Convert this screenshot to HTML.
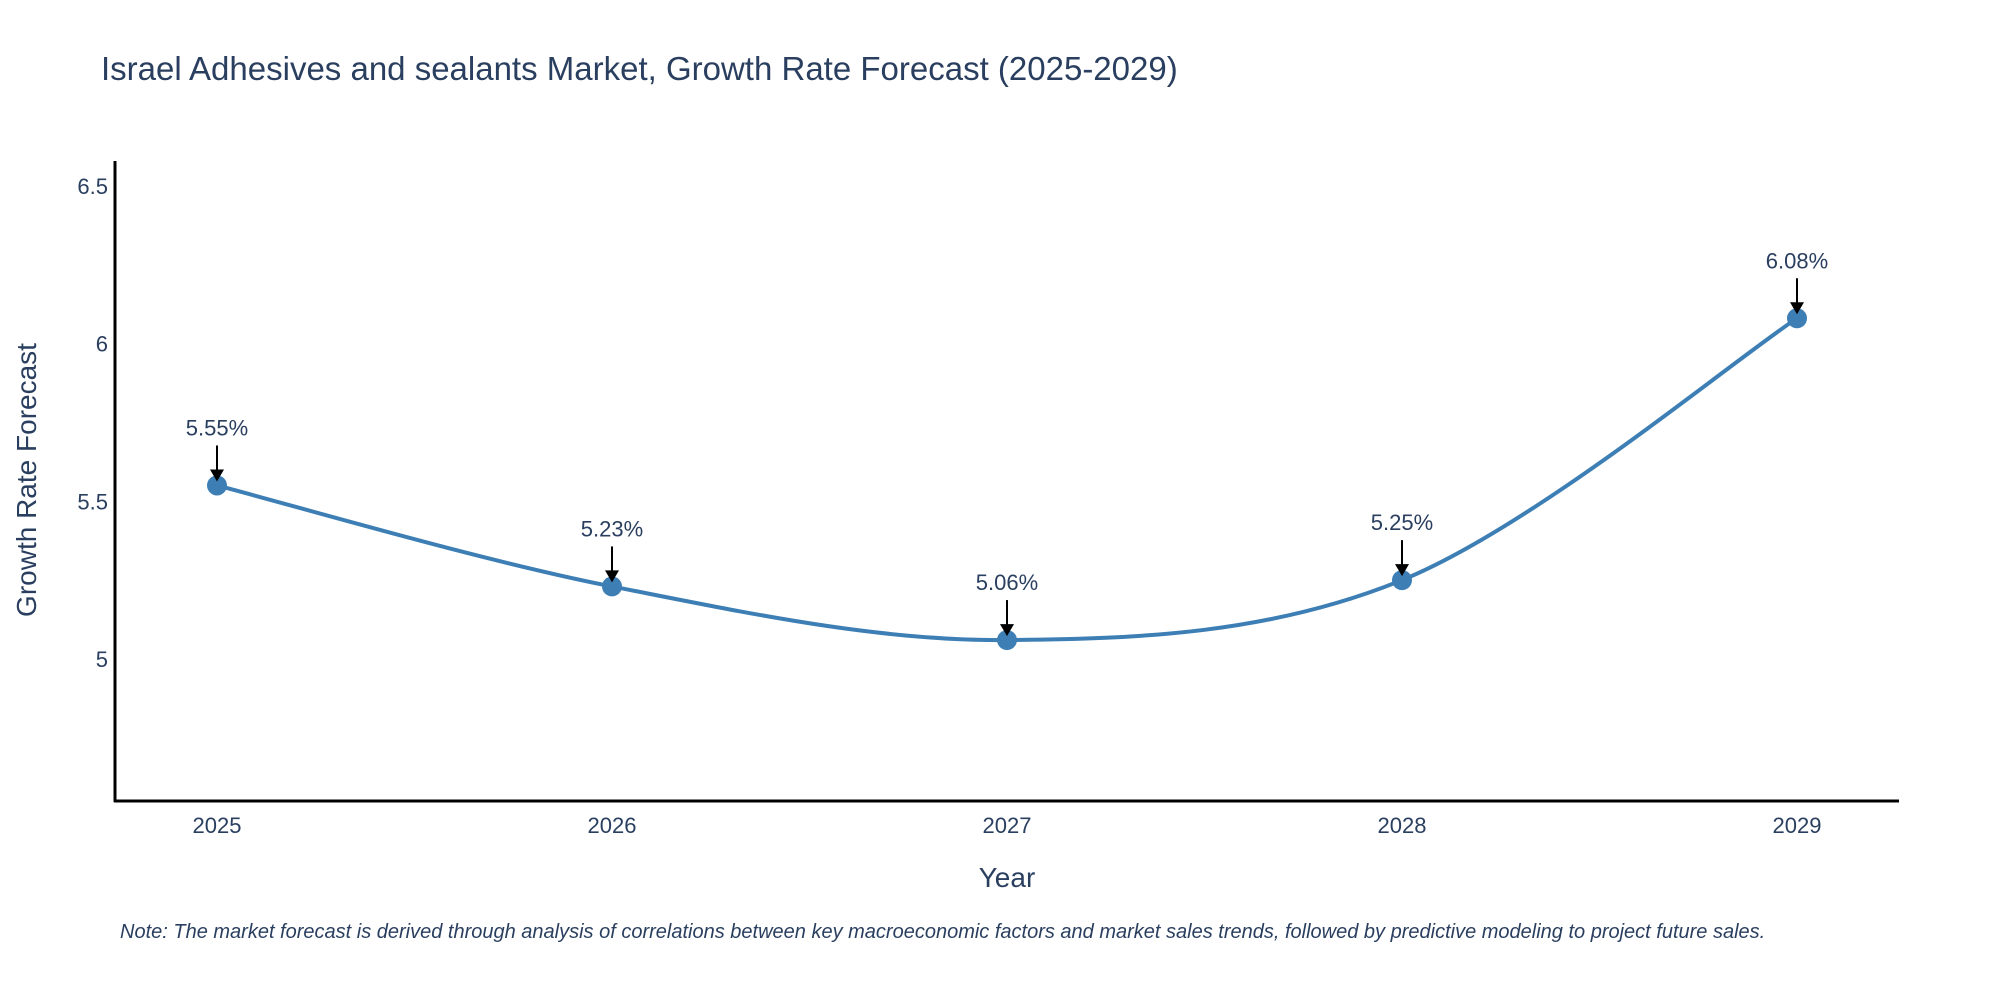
<!DOCTYPE html>
<html><head><meta charset="utf-8"><style>
body{margin:0;background:#fff;width:2000px;height:1000px;overflow:hidden;font-family:"Liberation Sans",sans-serif}
</style></head><body>
<svg id="chart" width="2000" height="1000" xmlns="http://www.w3.org/2000/svg">
<text x="101" y="80" font-size="33" fill="#2a3f5f">Israel Adhesives and sealants Market, Growth Rate Forecast (2025-2029)</text>
<g id="yticks"></g>
<g id="xticks"></g>
<line x1="115" y1="161" x2="115" y2="802" stroke="#000" stroke-width="3"/>
<line x1="114" y1="801" x2="1899" y2="801" stroke="#000" stroke-width="3"/>
<path id="series" fill="none" stroke="#3d7fb5" stroke-width="4"/>
<g id="marks"></g>
<text transform="translate(36,480) rotate(-90)" text-anchor="middle" font-size="28" fill="#2a3f5f">Growth Rate Forecast</text>
<text x="1007" y="887" text-anchor="middle" font-size="28" fill="#2a3f5f">Year</text>
<text x="120" y="938" font-size="20" font-style="italic" fill="#2a3f5f">Note: The market forecast is derived through analysis of correlations between key macroeconomic factors and market sales trends, followed by predictive modeling to project future sales.</text>
</svg>
<script>
const years = ["2025","2026","2027","2028","2029"];
const values = [5.55,5.23,5.06,5.25,6.08];
const yTicks = [5,5.5,6,6.5];
const yTickLabels = ["5","5.5","6","6.5"];
const NS="http://www.w3.org/2000/svg";
const x0=217,dx=395;
function xs(i){return x0+i*dx;}
function ys(v){return 659-(v-5)*315.5;}
function mk(tag,attrs,parent){const e=document.createElementNS(NS,tag);for(const k in attrs)e.setAttribute(k,attrs[k]);parent.appendChild(e);return e;}
const yt=document.getElementById('yticks');
yTicks.forEach((v,i)=>{const t=mk('text',{x:108,y:ys(v)+8,'text-anchor':'end','font-size':22,fill:'#2a3f5f'},yt);


t.textContent=yTickLabels[i];});
const xt=document.getElementById('xticks');
years.forEach((y,i)=>{const t=mk('text',{x:xs(i),y:833,'text-anchor':'middle','font-size':22,fill:'#2a3f5f'},xt);


t.textContent=y;});
const pts=values.map((v,i)=>[xs(i),ys(v)]);
let d='M'+pts[0][0]+','+pts[0][1];const s=0.5/3*2;
for(let i=0;i<pts.length-1;i++){const p0=pts[Math.max(i-1,0)],p1=pts[i],p2=pts[i+1],p3=pts[Math.min(i+2,pts.length-1)];
const c1=[p1[0]+(p2[0]-p0[0])*s/2,p1[1]+(p2[1]-p0[1])*s/2],c2=[p2[0]-(p3[0]-p1[0])*s/2,p2[1]-(p3[1]-p1[1])*s/2];
d+=' C'+c1+' '+c2+' '+p2;}
document.getElementById('series').setAttribute('d',d);
const g=document.getElementById('marks');
pts.forEach((p,i)=>{
const c=mk('circle',{cx:p[0],cy:p[1],r:10,fill:'#3d7fb5'},g);


const l=mk('line',{x1:p[0],y1:p[1]-40,x2:p[0],y2:p[1]-14,stroke:'#000','stroke-width':2},g);


const a=mk('polygon',{points:`${p[0]-7},${p[1]-16} ${p[0]+7},${p[1]-16} ${p[0]},${p[1]-4}`,fill:'#000'},g);


const t=mk('text',{x:p[0],y:p[1]-50,'text-anchor':'middle','font-size':22,fill:'#2a3f5f'},g);


t.textContent=values[i].toFixed(2)+'%';});
</script>
</body></html>
